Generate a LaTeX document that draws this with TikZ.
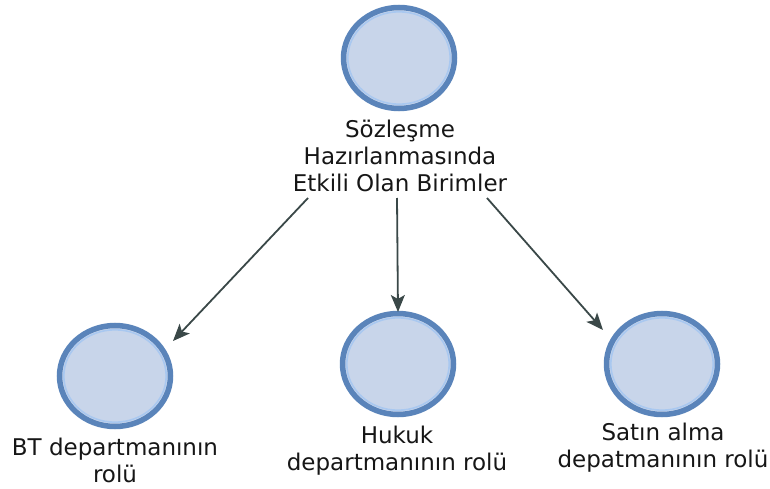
\documentclass[tikz,border=0pt]{standalone}
\usepackage{fontspec}
\setmainfont{DejaVu Sans}
\usetikzlibrary{shapes.geometric,arrows.meta}
\definecolor{ringblue}{HTML}{5A84BA}
\definecolor{haloblue}{HTML}{A9C8F0}
\definecolor{discfill}{HTML}{C8D5EA}
\definecolor{linkgray}{HTML}{3A4848}
\definecolor{labelink}{HTML}{161616}
\tikzset{
  unit/.style={ellipse, minimum width=111pt, minimum height=101pt, inner sep=0pt,
               fill=discfill, draw=ringblue, line width=5.5pt},
  halo/.style={draw=haloblue, line width=1.6pt},
  caption/.style={anchor=north, align=center, inner sep=0pt, text=labelink,
                  font=\fontsize{23}{27}\selectfont},
  link/.style={draw=linkgray, line width=1.8pt,
               -{Stealth[length=17pt,width=14pt,inset=4pt]}}
}
\begin{document}
\begin{tikzpicture}[x=1pt,y=-1pt]
  \useasboundingbox (0,0) rectangle (770,489);

  % discs
  \node[unit] (top)   at (399,58)  {};
  \node[unit] (bt)    at (115,376) {};
  \node[unit] (hukuk) at (398,364) {};
  \node[unit] (satin) at (662,364) {};
  \foreach \n in {top,bt,hukuk,satin}
    \draw[halo] (\n.center) ellipse (51.2 and 46.2);

  % captions
  \node[caption] (toplabel)   at (400,119.5) {Sözleşme\\Hazırlanmasında\\Etkili Olan Birimler};
  \node[caption] (btlabel)    at (115,437.5) {BT departmanının\\rolü};
  \node[caption] (hukuklabel) at (397,425.5) {Hukuk\\departmanının rolü};
  \node[caption] (satinlabel) at (663,422.5) {Satın alma\\depatmanının rolü};

  % connector ends
  \coordinate (s1) at (308,198);
  \coordinate (s2) at (397,198);
  \coordinate (s3) at (487,198);
  \coordinate (e1) at (173,341);
  \coordinate (e2) at (398,312);
  \coordinate (e3) at (603,330);

  \draw[link] (s1) -- (e1);
  \draw[link] (s2) -- (e2);
  \draw[link] (s3) -- (e3);
\end{tikzpicture}
\end{document}
